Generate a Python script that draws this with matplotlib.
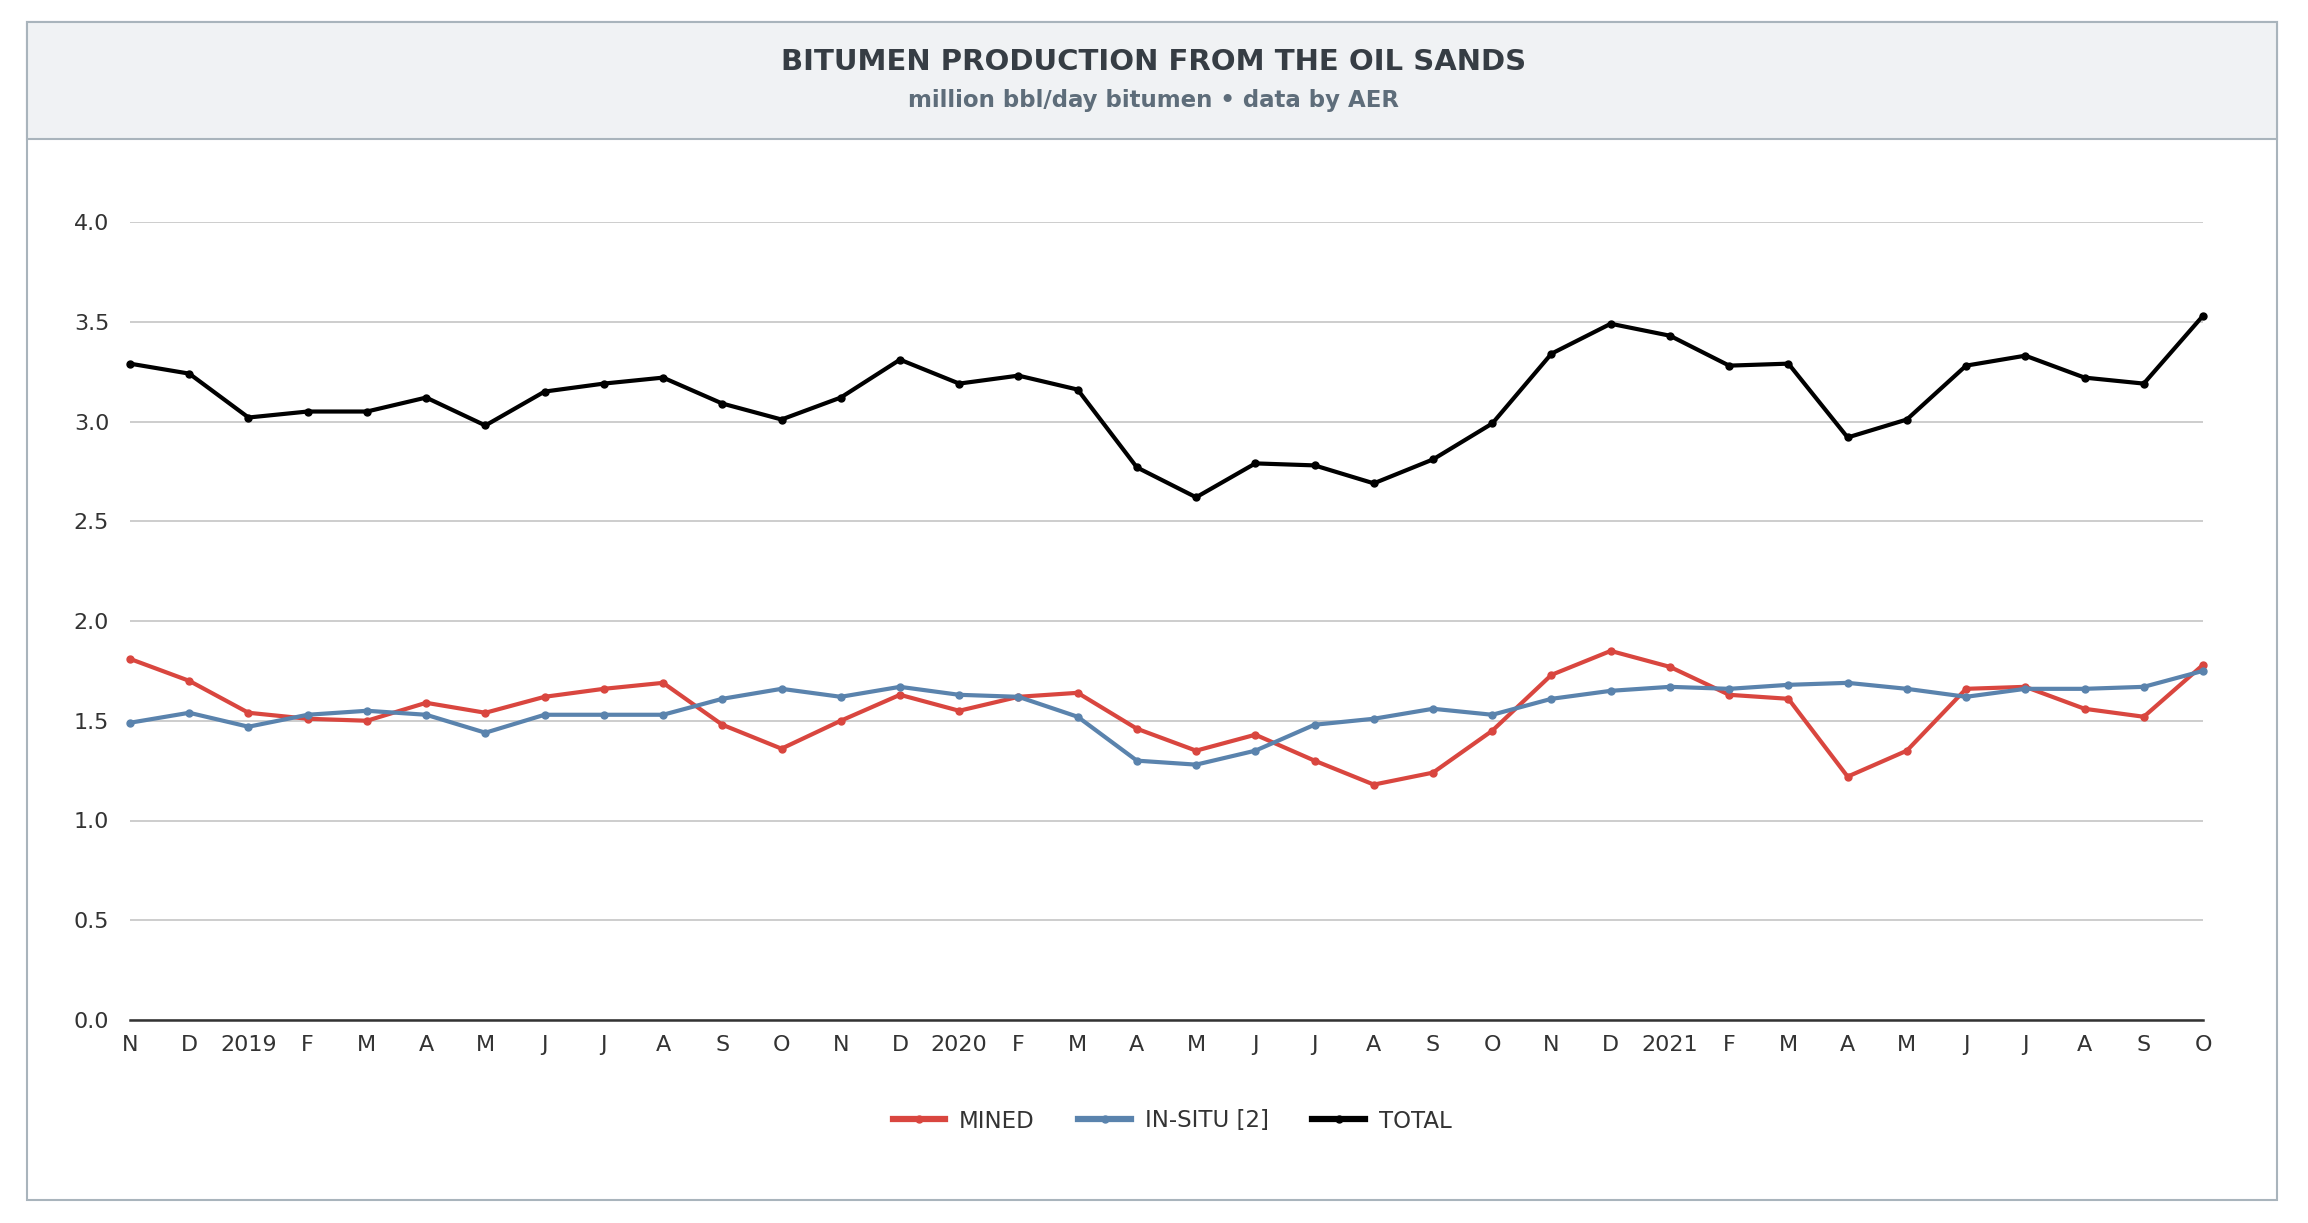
import numpy as np
from matplotlib import pyplot as plt
from matplotlib.patches import Rectangle

# month labels, Nov 2018 .. Oct 2021
months = ["N", "D", "2019", "F", "M", "A", "M", "J", "J", "A", "S", "O",
          "N", "D", "2020", "F", "M", "A", "M", "J", "J", "A", "S", "O",
          "N", "D", "2021", "F", "M", "A", "M", "J", "J", "A", "S", "O"]

mined = [1.81, 1.70, 1.54, 1.51, 1.50, 1.59, 1.54, 1.62, 1.66, 1.69, 1.48, 1.36,
         1.50, 1.63, 1.55, 1.62, 1.64, 1.46, 1.35, 1.43, 1.30, 1.18, 1.24, 1.45,
         1.73, 1.85, 1.77, 1.63, 1.61, 1.22, 1.35, 1.66, 1.67, 1.56, 1.52, 1.78]

in_situ = [1.49, 1.54, 1.47, 1.53, 1.55, 1.53, 1.44, 1.53, 1.53, 1.53, 1.61, 1.66,
           1.62, 1.67, 1.63, 1.62, 1.52, 1.30, 1.28, 1.35, 1.48, 1.51, 1.56, 1.53,
           1.61, 1.65, 1.67, 1.66, 1.68, 1.69, 1.66, 1.62, 1.66, 1.66, 1.67, 1.75]

total = [3.29, 3.24, 3.02, 3.05, 3.05, 3.12, 2.98, 3.15, 3.19, 3.22, 3.09, 3.01,
         3.12, 3.31, 3.19, 3.23, 3.16, 2.77, 2.62, 2.79, 2.78, 2.69, 2.81, 2.99,
         3.34, 3.49, 3.43, 3.28, 3.29, 2.92, 3.01, 3.28, 3.33, 3.22, 3.19, 3.53]

W, H = 2308, 1223
RED = "#d9463f"
BLUE = "#5a83ad"
BORDER = "#a9b4bc"


def fx(px):
    return px / W


def fy(py):
    return 1 - py / H


def main():
    fig = plt.figure(figsize=(W / 100, H / 100), dpi=100)

    # outer frame and header band (kept behind the axes)
    fig.patches.append(Rectangle((fx(27), fy(1200)), fx(2277) - fx(27), fy(22) - fy(1200),
                                 transform=fig.transFigure, facecolor="none",
                                 edgecolor=BORDER, lw=1.5, zorder=-10))
    fig.patches.append(Rectangle((fx(27), fy(139)), fx(2277) - fx(27), fy(22) - fy(139),
                                 transform=fig.transFigure, facecolor="#f0f2f4",
                                 edgecolor=BORDER, lw=1.5, zorder=-9))

    fig.text(0.5, fy(62), "BITUMEN PRODUCTION FROM THE OIL SANDS", ha="center", va="center",
             fontsize=21, fontweight="bold", color="#363d44", family="DejaVu Sans")
    fig.text(0.5, fy(101), "million bbl/day bitumen \u2022 data by AER", ha="center", va="center",
             fontsize=16.5, fontweight="bold", color="#5e6d7a", family="DejaVu Sans")

    ax = fig.add_axes([fx(130), fy(1020), fx(2203) - fx(130), fy(222) - fy(1020)])
    ax.patch.set_visible(False)
    x = np.arange(len(months))

    ax.plot(x, mined, color=RED, lw=3.0, marker="o", ms=5, label="MINED", clip_on=False, zorder=3)
    ax.plot(x, in_situ, color=BLUE, lw=3.0, marker="o", ms=5, label="IN-SITU [2]", clip_on=False, zorder=3)
    ax.plot(x, total, color="black", lw=3.0, marker="o", ms=5, label="TOTAL", clip_on=False, zorder=4)

    ax.set_xlim(0, len(months) - 1)
    ax.set_ylim(0, 4.0)
    ax.set_yticks(np.arange(0, 4.01, 0.5))
    ax.set_yticklabels([f"{v:.1f}" for v in np.arange(0, 4.01, 0.5)])
    ax.set_xticks(x)
    ax.set_xticklabels(months)
    ax.grid(axis="y", color="#c9c9c9", lw=1.3)
    ax.set_axisbelow(True)
    for s in ["top", "right", "left"]:
        ax.spines[s].set_visible(False)
    ax.spines["bottom"].set_color("#333333")
    ax.spines["bottom"].set_linewidth(1.8)
    ax.tick_params(axis="both", length=0, labelsize=16, labelcolor="#333333")
    ax.tick_params(axis="x", pad=11)
    ax.tick_params(axis="y", pad=15)

    leg = fig.legend(loc="center", bbox_to_anchor=(fx(1172), fy(1121)), ncol=3, frameon=False,
                     fontsize=16.5, handlelength=2.3, columnspacing=1.9, handletextpad=0.6,
                     labelcolor="#333333")
    for h in leg.legend_handles:
        h.set_linewidth(4.5)

    fig.savefig("out.png", dpi=100)


if __name__ == "__main__":
    main()
